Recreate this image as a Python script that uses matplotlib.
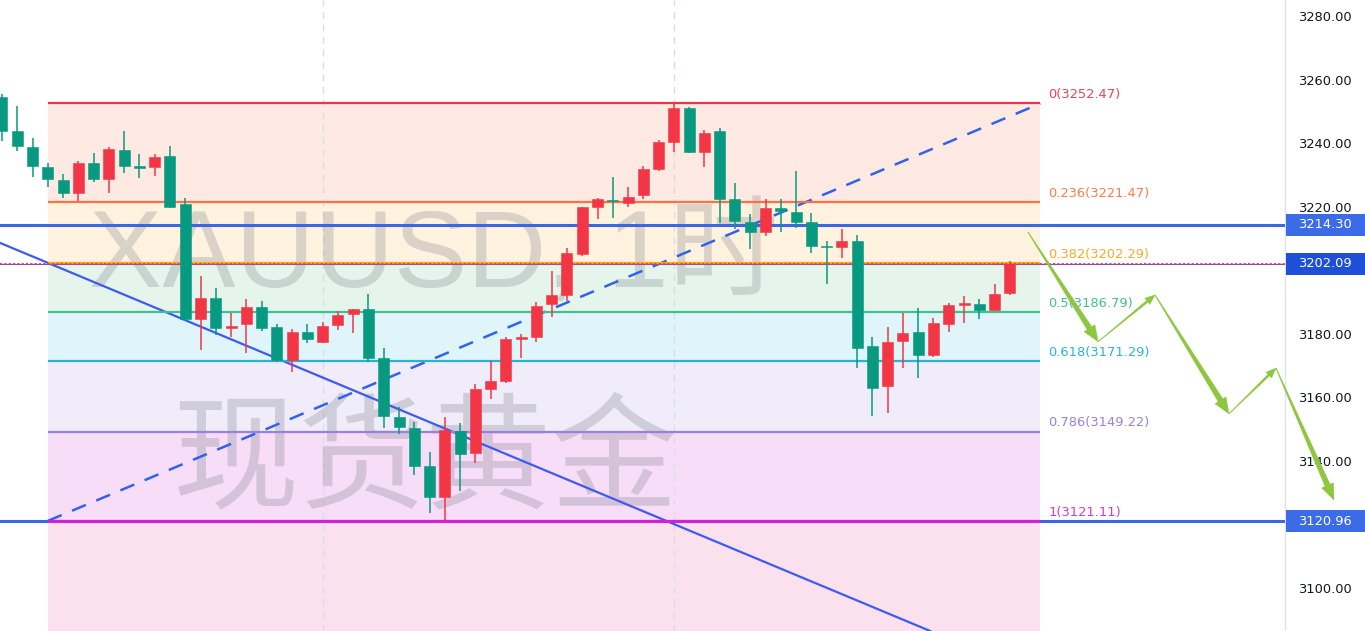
import numpy as np
import matplotlib
matplotlib.use("Agg")
import matplotlib.pyplot as plt
from matplotlib.patches import Polygon, Rectangle
from matplotlib.transforms import IdentityTransform, blended_transform_factory

# ---------------- data ----------------
opens = [3254.6, 3243.8, 3238.9, 3232.6, 3228.4, 3224.2, 3233.6, 3228.8, 3237.7, 3232.5,
         3232.4, 3235.9, 3220.7, 3184.7, 3191.4, 3181.8, 3183.0, 3188.4, 3182.1, 3171.7,
         3180.5, 3177.3, 3182.8, 3186.1, 3187.7, 3172.3, 3153.9, 3150.3, 3138.5, 3128.7,
         3149.4, 3142.6, 3162.5, 3165.1, 3178.4, 3179.1, 3189.4, 3192.2, 3205.1, 3220.0,
         3222.0, 3221.2, 3223.7, 3231.9, 3240.4, 3250.95, 3237.3, 3243.8, 3222.3, 3215.3,
         3211.9, 3219.5, 3218.2, 3215.1, 3207.5, 3207.4, 3209.3, 3176.2, 3163.6, 3177.7,
         3180.7, 3173.3, 3183.0, 3189.2, 3189.4, 3187.5, 3192.7]
highs = [3255.5, 3251.7, 3241.5, 3233.6, 3230.2, 3234.4, 3236.8, 3238.9, 3243.8, 3236.6,
         3236.6, 3239.2, 3222.6, 3198.2, 3194.3, 3186.4, 3190.9, 3190.3, 3183.0, 3181.4,
         3183.0, 3183.8, 3187.2, 3187.7, 3192.4, 3175.4, 3156.9, 3152.3, 3142.9, 3153.7,
         3151.8, 3164.1, 3171.4, 3178.9, 3179.8, 3189.9, 3199.8, 3206.9, 3220.0, 3222.6,
         3229.2, 3226.1, 3232.8, 3241.0, 3252.47, 3251.3, 3244.1, 3244.7, 3227.5, 3217.6,
         3222.4, 3222.4, 3231.2, 3217.9, 3209.3, 3212.9, 3211.1, 3179.1, 3182.0, 3186.4,
         3188.0, 3184.9, 3189.6, 3192.0, 3190.9, 3195.7, 3202.9]
lows = [3240.8, 3237.5, 3229.4, 3226.3, 3222.6, 3221.9, 3227.9, 3224.4, 3230.7, 3229.1,
        3229.7, 3219.5, 3184.1, 3174.9, 3179.6, 3179.1, 3173.9, 3181.0, 3171.2, 3168.1,
        3177.0, 3177.0, 3181.2, 3180.2, 3171.2, 3150.3, 3148.4, 3135.6, 3123.5, 3121.11,
        3130.6, 3139.2, 3159.4, 3164.4, 3172.5, 3177.5, 3185.2, 3190.4, 3204.6, 3216.0,
        3216.5, 3220.0, 3222.3, 3231.2, 3237.1, 3236.8, 3232.4, 3215.0, 3212.9, 3206.6,
        3210.9, 3212.1, 3213.2, 3205.3, 3195.6, 3203.8, 3169.1, 3154.2, 3155.0, 3169.3,
        3166.2, 3172.8, 3180.5, 3183.5, 3184.7, 3187.3, 3192.2]
closes = [3243.9, 3239.2, 3232.9, 3228.7, 3224.2, 3233.6, 3228.7, 3238.1, 3232.8, 3232.3,
          3235.7, 3220.0, 3184.6, 3191.4, 3181.9, 3182.6, 3188.5, 3181.9, 3171.7, 3180.7,
          3178.3, 3182.5, 3186.0, 3187.7, 3172.3, 3154.2, 3150.6, 3138.5, 3128.7, 3149.7,
          3142.2, 3162.5, 3165.1, 3178.4, 3178.8, 3188.7, 3192.2, 3205.3, 3219.8, 3222.3,
          3221.7, 3223.1, 3231.9, 3240.4, 3251.1, 3237.1, 3243.1, 3222.4, 3215.5, 3211.9,
          3219.5, 3218.7, 3215.1, 3207.7, 3207.2, 3209.2, 3175.4, 3163.0, 3177.3, 3180.3,
          3173.3, 3183.3, 3189.1, 3189.4, 3187.5, 3192.5, 3202.09]

yticks = [3100, 3120, 3140, 3160, 3180, 3200, 3220, 3240, 3260, 3280]
hidden_ticks = [3120, 3200]   # covered by the price boxes in the original

fib_ratios = [0, 0.236, 0.382, 0.5, 0.618, 0.786, 1]
fib_prices = [3252.47, 3221.47, 3202.29, 3186.79, 3171.29, 3149.22, 3121.11]
fib_line_colors = ["#E8374B", "#FF7043", "#FFA41B", "#43BF8C", "#27B2DA", "#9C80E0", "#DA1CD8"]
fib_text_colors = ["#EA4159", "#FF7A4D", "#FFA726", "#45BE8D", "#2BB2D8", "#9B7FDD", "#D537D4"]
fib_fill_colors = ["#FEE9E3", "#FFF3E0", "#E6F5EC", "#DFF5F9", "#F0ECFA", "#F7DDF8"]
fib_below_fill = "#FBE1EE"
fib_start, fib_end = 3, 68

day_breaks = [21, 44]

hlines_prices = [3214.30, 3120.96]
last_price = 3202.09

trend_pts = [(-0.13, 3208.6), (60.77, 3086.5)]
fib_diag = [(3, 3121.11), (68, 3252.47)]

forecast_x = [67.19, 71.78, 75.51, 80.35, 83.43, 87.23]
forecast_y = [3212.0, 3177.5, 3192.2, 3154.8, 3169.2, 3127.7]

UP = "#F23645"
DOWN = "#089981"
BLUE = "#3A67E6"

# ---------------- figure ----------------
W, H = 1365, 631
fig = plt.figure(figsize=(W / 100, H / 100), dpi=100)
fig.patch.set_facecolor("white")
ax = fig.add_axes([0, 0, 1285 / W, 1])
ax.set_facecolor("white")
ax.set_xlim(-0.131, 84.02)
ax.set_ylim(3086.47, 3285.03)

# fib fills
levels = fib_prices
for i in range(len(levels) - 1):
    ax.fill_between([fib_start, fib_end], levels[i + 1], levels[i],
                    color=fib_fill_colors[i], lw=0, zorder=0)
ax.fill_between([fib_start, fib_end], 3000, levels[-1], color=fib_below_fill, lw=0, zorder=0)

# day separators
for d in day_breaks:
    ax.axvline(d, color="#DADDE6", lw=1.0, ls=(0, (5, 4)), zorder=0.5)

# watermark
wm_kw = dict(color="#787B86", alpha=0.27, zorder=1, ha="center", va="center")
ax.text(434 / 1285, 1 - 257 / H, "XAUUSD, 1时", transform=ax.transAxes, fontsize=79,
        family=["Liberation Sans", "Noto Sans CJK SC"], **wm_kw)
ax.text(425 / 1285, 1 - 462 / H, "现货黄金", transform=ax.transAxes, fontsize=91,
        family=["Noto Sans CJK SC", "DejaVu Sans"], **wm_kw)

# fib lines
for p, c in zip(fib_prices, fib_line_colors):
    ax.hlines(p, fib_start, fib_end, color=c, lw=1.6, zorder=3)

# horizontal user lines
for p in hlines_prices:
    ax.axhline(p, color=BLUE, lw=2.2, zorder=2.8)
ax.axhline(last_price, color=BLUE, lw=0.8, zorder=2.7)
ax.axhline(last_price, color=UP, lw=1.3, ls=(0, (1.2, 1.2)), zorder=3.5)
# fib 1 drawn on top of the blue line
ax.hlines(fib_prices[-1], fib_start, fib_end, color=fib_line_colors[-1], lw=2.0, zorder=3.1)

# trend lines
ax.axline(trend_pts[0], trend_pts[1], color="#3D5AF1", lw=1.6, zorder=2.6)
ax.plot([fib_diag[0][0], fib_diag[1][0]], [fib_diag[0][1], fib_diag[1][1]],
        color="#2F62F0", lw=1.8, ls=(0, (6, 4.5)), zorder=2.6)

# candles
x = np.arange(len(opens))
o = np.array(opens); c = np.array(closes); h = np.array(highs); l = np.array(lows)
up = c >= o
cols = np.where(up, UP, DOWN)
ax.vlines(x, l, h, colors=cols, lw=1.1, zorder=4)
body_lo = np.minimum(o, c)
body_h = np.maximum(np.abs(c - o), 0.55)
ax.bar(x, body_h, bottom=body_lo, width=0.72, color=cols, edgecolor=cols, lw=0.4, zorder=5)

# fib labels
for r, p, tc in zip(fib_ratios, fib_prices, fib_text_colors):
    ax.annotate(f"{r:g}({p:.2f})", xy=(fib_end, p), xytext=(5.8, 6.2), textcoords="offset points",
                color=tc, fontsize=9.4, ha="left", va="center", zorder=6)

# axis styling
ax.yaxis.tick_right()
ax.set_yticks(yticks)
ax.set_yticklabels(["" if v in hidden_ticks else f"{v:.2f}" for v in yticks])
ax.tick_params(axis="y", length=0, pad=9.4, labelsize=9.4, labelcolor="#131722")
ax.set_xticks([])
for s in ["left", "top", "bottom"]:
    ax.spines[s].set_visible(False)
ax.spines["right"].set_color("#E0E3EB")
ax.spines["right"].set_linewidth(1.0)

# price boxes on axis
bt = blended_transform_factory(ax.transAxes, ax.transData)
half = 11 / 3.1778
for p, bc in [(3214.30, "#3C6BE8"), (last_price, "#1D4FD7"), (3120.96, "#3C6BE8")]:
    ax.add_patch(Rectangle((1.0008, p - half), W / 1285 - 1.0, 2 * half, transform=bt,
                           facecolor=bc, edgecolor="none", clip_on=False, zorder=10))
    ax.text(1298 / 1285, p, f"{p:.2f}", transform=bt, color="white", fontsize=9.4,
            ha="left", va="center", clip_on=False, zorder=11)

# forecast arrows (tapered) in display coords
def tapered_arrow(p0, p1, w0, w1, hw, hl, color):
    a = ax.transData.transform(p0)
    b = ax.transData.transform(p1)
    d = b - a
    L = np.hypot(*d)
    d = d / L
    n = np.array([-d[1], d[0]])
    base = b - d * hl
    pts = [a + n * w0 / 2, base + n * w1 / 2, base + n * hw / 2, b,
           base - n * hw / 2, base - n * w1 / 2, a - n * w0 / 2]
    poly = Polygon(pts, closed=True, facecolor=color, edgecolor=color, lw=0.3,
                   transform=IdentityTransform(), zorder=12)
    fig.add_artist(poly)

GREEN_ARROW = "#8DC63F"
specs = [(0.6, 5.5, 13, 16), (0.4, 2.2, 8, 10), (0.6, 5.5, 13, 16), (0.4, 2.2, 8, 10), (0.6, 5.5, 13, 16)]
for i in range(len(forecast_x) - 1):
    w0, w1, hw, hl = specs[i]
    tapered_arrow((forecast_x[i], forecast_y[i]), (forecast_x[i + 1], forecast_y[i + 1]),
                  w0, w1, hw, hl, GREEN_ARROW)

fig.savefig("out.png", dpi=100, facecolor="white")
